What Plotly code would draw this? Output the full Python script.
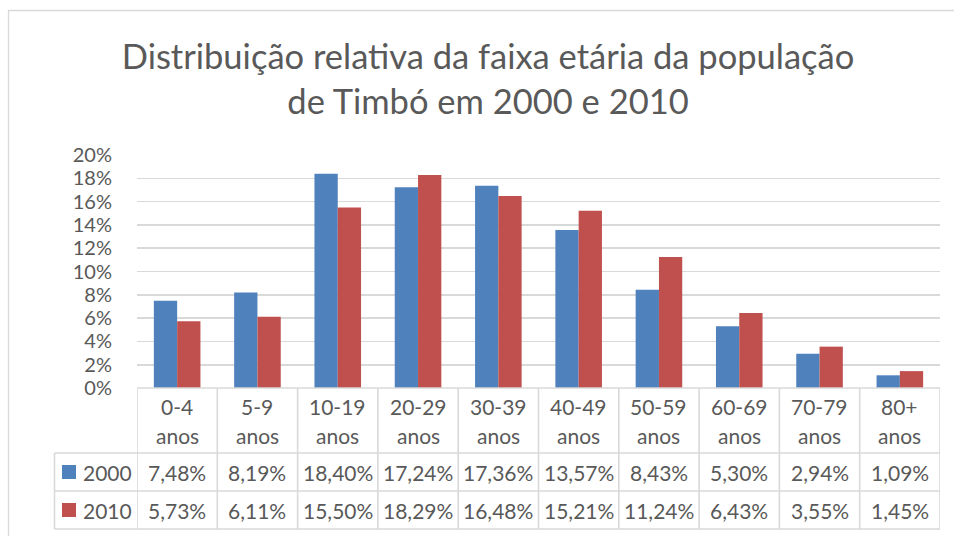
import plotly.graph_objects as go

categories = ["0-4 anos", "5-9 anos", "10-19 anos", "20-29 anos", "30-39 anos",
              "40-49 anos", "50-59 anos", "60-69 anos", "70-79 anos", "80+ anos"]
series_names = ["2000", "2010"]
values_2000 = [7.48, 8.19, 18.40, 17.24, 17.36, 13.57, 8.43, 5.30, 2.94, 1.09]
values_2010 = [5.73, 6.11, 15.50, 18.29, 16.48, 15.21, 11.24, 6.43, 3.55, 1.45]
y_ticks = [0, 2, 4, 6, 8, 10, 12, 14, 16, 18, 20]

colors = {"2000": "#4F81BD", "2010": "#C0504D"}
TXT = "#595959"
GRID = "#D9D9D9"
FONT = "Lato"
FS = 21

W, H = 954, 536
# plot area in pixels
X0, X1, Y0, Y1 = 137, 940, 155, 388
L, R, T, B = X0, W - X1, Y0, H - Y1
PW, PH = W - L - R, H - T - B


def py(y):  # pixel y -> paper y
    return (Y1 - y) / PH


def px(x):  # pixel x -> paper x
    return (x - X0) / PW


fig = go.Figure()
for name, vals in zip(series_names, [values_2000, values_2010]):
    fig.add_trace(go.Bar(
        x=list(range(len(categories))), y=[v / 100 for v in vals], name=name,
        marker=dict(color=colors[name], line=dict(width=0)),
    ))

shapes = []
annotations = []

# outer chart border
shapes.append(dict(type="rect", xref="paper", yref="paper",
                   x0=px(8.5), x1=px(W + 40), y0=py(H + 40), y1=py(10.5),
                   line=dict(color=GRID, width=1.3), fillcolor="rgba(0,0,0,0)", layer="below"))

# data table grid
n = len(categories)
row_lines = [388, 453, 491, 529]
for i in range(n + 1):
    shapes.append(dict(type="line", xref="x", yref="paper", x0=i - 0.5, x1=i - 0.5,
                       y0=py(529), y1=py(388), line=dict(color=GRID, width=1.6)))
shapes.append(dict(type="line", xref="paper", yref="paper", x0=px(54.5), x1=px(54.5),
                   y0=py(529), y1=py(453), line=dict(color=GRID, width=1.6)))
shapes.append(dict(type="line", xref="paper", yref="paper", x0=0, x1=1,
                   y0=py(388), y1=py(388), line=dict(color=GRID, width=1.6)))
for yy in row_lines[1:]:
    shapes.append(dict(type="line", xref="paper", yref="paper", x0=px(54.5), x1=1,
                       y0=py(yy), y1=py(yy), line=dict(color=GRID, width=1.6)))

# header text
for i, c in enumerate(categories):
    a, b = c.split(" ")
    annotations.append(dict(x=i, y=py(406), xref="x", yref="paper", text=a, showarrow=False,
                            font=dict(family=FONT, size=FS, color=TXT), yanchor="middle"))
    annotations.append(dict(x=i, y=py(435), xref="x", yref="paper", text=b, showarrow=False,
                            font=dict(family=FONT, size=FS, color=TXT), yanchor="middle"))

# rows
row_centers = [472, 510]
for name, vals, yc in zip(series_names, [values_2000, values_2010], row_centers):
    for i, v in enumerate(vals):
        annotations.append(dict(x=i, y=py(yc), xref="x", yref="paper",
                                text=f"{v:.2f}%".replace(".", ","), showarrow=False,
                                font=dict(family=FONT, size=FS, color=TXT), yanchor="middle"))
    shapes.append(dict(type="rect", xref="paper", yref="paper",
                       x0=px(62), x1=px(76), y0=py(yc + 7), y1=py(yc - 7),
                       fillcolor=colors[name], line=dict(width=0)))
    annotations.append(dict(x=px(81), y=py(yc), xref="paper", yref="paper", text=name,
                            showarrow=False, xanchor="left", yanchor="middle",
                            font=dict(family=FONT, size=FS, color=TXT)))

fig.update_layout(
    width=W, height=H,
    margin=dict(l=L, r=R, t=T, b=B, autoexpand=False),
    paper_bgcolor="white", plot_bgcolor="white",
    title=dict(text="Distribuição relativa da faixa etária da população<br>de Timbó em 2000 e 2010",
               x=px(488), xref="paper", xanchor="center", y=1 - 69 / H, yref="container",
               yanchor="middle",
               font=dict(family=FONT, size=34.5, color=TXT)),
    showlegend=False,
    hovermode=False,
    barmode="group", bargap=0.42, bargroupgap=0,
    xaxis=dict(range=[-0.5, n - 0.5], showticklabels=False, showgrid=False, zeroline=False,
               showline=False, fixedrange=True),
    yaxis=dict(range=[0, 0.2], tickvals=[t / 100 for t in y_ticks],
               ticktext=[f"{t}%" for t in y_ticks], showgrid=True, gridcolor=GRID, gridwidth=1.6,
               zeroline=False, showline=False, ticks="outside", ticklen=20, fixedrange=True,
               tickcolor="rgba(0,0,0,0)", tickfont=dict(family=FONT, size=FS - 1, color=TXT)),
    shapes=shapes, annotations=annotations,
    font=dict(family=FONT, color=TXT),
)

fig.write_html("out.html", config={"displayModeBar": False, "staticPlot": True},
               post_script="document.body.style.margin='0';document.body.style.overflow='hidden';")
